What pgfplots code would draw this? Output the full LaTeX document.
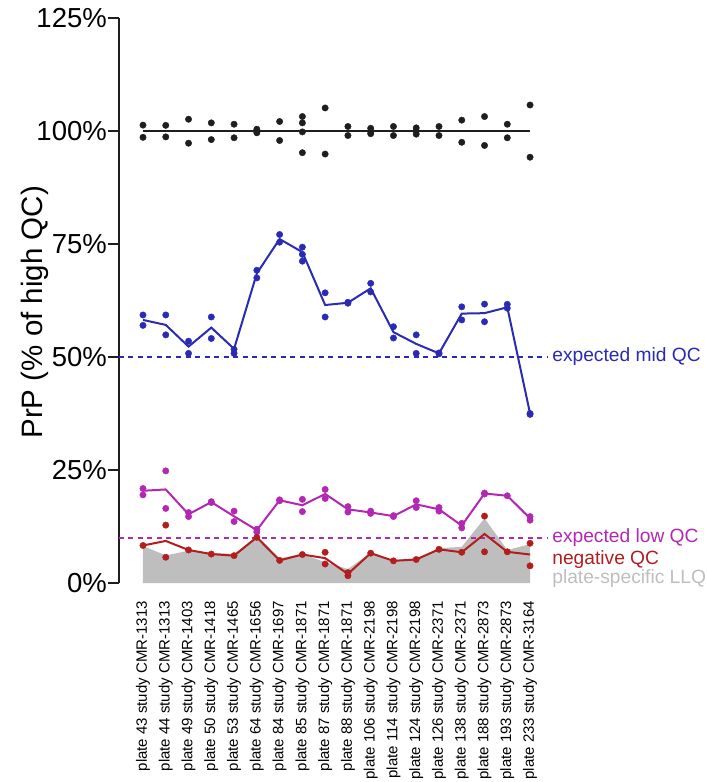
\documentclass[border=0pt]{standalone}
\usepackage{fontspec}
\setmainfont{Liberation Sans}
\usepackage{pgfplots}
\pgfplotsset{compat=1.18}
\definecolor{qblue}{RGB}{42,42,178}
\definecolor{qmag}{RGB}{178,40,178}
\definecolor{qred}{RGB}{178,30,30}
\definecolor{qgray}{RGB}{190,190,190}
\definecolor{qblack}{RGB}{30,30,30}
\begin{document}
\begin{tikzpicture}
\begin{axis}[name=ax, scale only axis, width=427pt, height=565pt,
 xmin=-1.054, xmax=17.7, ymin=0, ymax=125, clip=false,
 axis y line*=left, axis x line*=bottom, x axis line style={draw=none},
 axis line style={line width=1.4pt, color=qblack},
 xtick={0,...,17},
 xticklabels={plate 43 study CMR-1313, plate 44 study CMR-1313, plate 49 study CMR-1403, plate 50 study CMR-1418, plate 53 study CMR-1465, plate 64 study CMR-1656, plate 84 study CMR-1697, plate 85 study CMR-1871, plate 87 study CMR-1871, plate 88 study CMR-1871, plate 106 study CMR-2198, plate 114 study CMR-2198, plate 124 study CMR-2198, plate 126 study CMR-2371, plate 138 study CMR-2371, plate 188 study CMR-2873, plate 193 study CMR-2873, plate 233 study CMR-3164},
 x tick style={draw=none},
 xticklabel shift=7pt,
 xticklabel style={rotate=90, anchor=east, font=\fontsize{15}{17}\selectfont, inner sep=0pt},
 ytick={0,25,50,75,100,125}, yticklabel={\pgfmathprintnumber{\tick}\%},
 yticklabel style={font=\fontsize{27.5}{30}\selectfont, inner sep=1pt},
 y tick style={line width=1.4pt, color=qblack},
 tick align=outside, major tick length=11pt,
 /pgf/number format/assume math mode=true,
 ylabel={PrP (\% of high QC)},
 ylabel style={font=\fontsize{29.5}{32}\selectfont, at={(axis description cs:-0.197,0.479)}, anchor=center},
 mark size=3.2pt
]
% LLQ area
\addplot[fill=qgray, draw=none, forget plot] coordinates {(0,8.2) (1,6.1) (2,7.15) (3,6.7) (4,6.4) (5,10.4) (6,5.5) (7,6.4) (8,4.6) (9,3.1) (10,6.7) (11,5.1) (12,5.4) (13,7.7) (14,8.0) (15,14.3) (16,7.3) (17,8.6)} \closedcycle;
% expected lines
\addplot[draw=qblue, line width=1.6pt, dash pattern=on 5pt off 4.5pt] coordinates {(-1.054,50) (17.75,50)};
\addplot[draw=qmag, line width=1.6pt, dash pattern=on 5pt off 4.5pt] coordinates {(-1.054,10) (17.75,10)};
% high QC
\addplot[qblack, line width=2pt] coordinates {(0,100) (17,100)};
\addplot[only marks, mark=*, qblack] coordinates {(0,101.3) (0,98.6) (1,101.25) (1,98.7) (2,102.6) (2,97.3) (3,101.8) (3,98.1) (4,101.5) (4,98.5) (5,100.4) (5,99.6) (6,102.1) (6,97.9) (7,103.2) (7,101.8) (7,99.8) (7,95.2) (8,105.1) (8,94.9) (9,101.0) (9,99.0) (10,100.6) (10,99.9) (10,99.4) (11,101.0) (11,99.0) (12,100.7) (12,100.0) (12,99.3) (13,101.0) (13,99.0) (14,102.4) (14,97.5) (15,103.2) (15,96.8) (16,101.5) (16,98.5) (17,105.75) (17,94.2)};
% mid QC
\addplot[qblue, line width=2pt] coordinates {(0,58.2) (1,57.1) (2,52.3) (3,56.5) (4,51.8) (5,68.5) (6,76.1) (7,73.2) (8,61.5) (9,62.0) (10,65.2) (11,55.5) (12,52.9) (13,50.8) (14,59.6) (15,59.7) (16,61.0) (17,37.5)};
\addplot[only marks, mark=*, qblue] coordinates {(0,59.3) (0,57.0) (1,59.3) (1,54.9) (2,53.5) (2,50.8) (3,58.85) (3,54.1) (4,51.7) (4,50.8) (5,69.2) (5,67.5) (6,77.1) (6,75.4) (7,74.3) (7,72.7) (7,71.2) (8,64.2) (8,58.85) (9,62.1) (9,61.9) (10,66.3) (10,64.4) (11,56.7) (11,54.2) (12,54.9) (12,50.8) (13,50.9) (13,50.7) (14,61.1) (14,58.2) (15,61.7) (15,57.8) (16,61.65) (16,60.8) (17,37.5) (17,37.3)};
% low QC
\addplot[qmag, line width=2pt] coordinates {(0,20.4) (1,20.7) (2,15.2) (3,17.9) (4,14.75) (5,11.7) (6,18.3) (7,17.2) (8,19.7) (9,16.3) (10,15.6) (11,14.8) (12,17.4) (13,16.3) (14,12.7) (15,19.8) (16,19.3) (17,14.3)};
\addplot[only marks, mark=*, qmag] coordinates {(0,20.9) (0,19.5) (1,24.8) (1,16.5) (2,15.6) (2,14.7) (3,18.0) (3,17.8) (4,15.9) (4,13.6) (5,11.9) (5,11.3) (6,18.4) (6,18.2) (7,18.5) (7,15.8) (8,20.7) (8,18.7) (9,16.9) (9,15.7) (10,15.9) (10,15.4) (11,14.9) (11,14.7) (12,18.2) (12,16.7) (13,16.7) (13,15.9) (14,13.2) (14,12.2) (15,19.9) (15,19.7) (16,19.3) (17,14.7) (17,13.9)};
% negative QC
\addplot[qred, line width=2pt] coordinates {(0,8.3) (1,9.3) (2,7.3) (3,6.4) (4,6.05) (5,10.1) (6,5.0) (7,6.3) (8,5.5) (9,2.0) (10,6.6) (11,4.9) (12,5.2) (13,7.45) (14,6.8) (15,10.85) (16,6.9) (17,6.3)};
\addplot[only marks, mark=*, qred] coordinates {(0,8.3) (1,12.8) (1,5.7) (2,7.3) (3,6.4) (4,6.05) (5,10.1) (6,5.0) (7,6.3) (8,6.8) (8,4.2) (9,2.3) (9,1.6) (10,6.6) (11,4.9) (12,5.2) (13,7.45) (14,6.8) (15,14.8) (15,6.9) (16,6.9) (17,8.8) (17,3.8)};
% labels
\node[anchor=west, inner sep=0pt, text=qblue, font=\fontsize{19.2}{21}\selectfont] at (axis cs:17.97,50) {expected mid QC};
\node[anchor=west, inner sep=0pt, text=qmag, font=\fontsize{19.2}{21}\selectfont] at (axis cs:17.97,10) {expected low QC};
\node[anchor=west, inner sep=0pt, text=qred, font=\fontsize{19.2}{21}\selectfont] at (axis cs:17.97,5.3) {negative QC};
\node[anchor=west, inner sep=0pt, text=qgray, font=\fontsize{19.2}{21}\selectfont] at (axis cs:17.97,1.0) {plate-specific LLQ};
\end{axis}
\pgfresetboundingbox
\path[use as bounding box] ([shift={(-119pt,-199pt)}]ax.south west) rectangle ([shift={(588pt,583pt)}]ax.south west);
\end{tikzpicture}
\end{document}
